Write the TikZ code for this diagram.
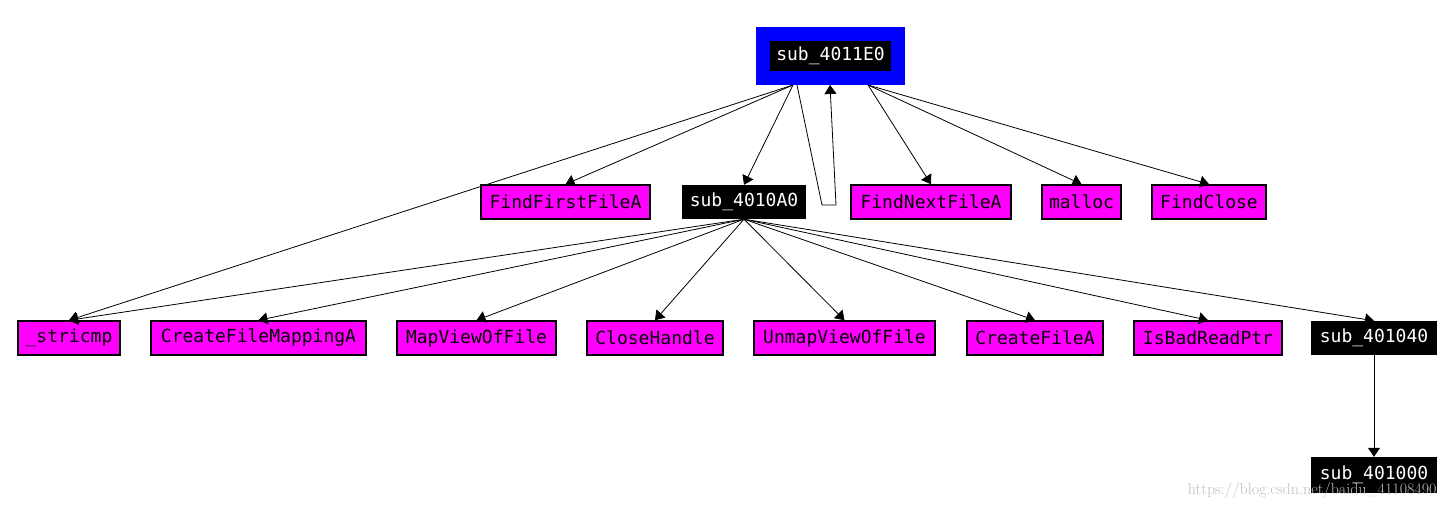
\documentclass[tikz,border=0pt]{standalone}
\usepackage{fontspec}
\setmonofont{DejaVu Sans Mono}
\usetikzlibrary{arrows.meta}
\definecolor{mag}{RGB}{255,0,255}
\definecolor{blu}{RGB}{0,0,255}
\begin{document}
\begin{tikzpicture}[x=1pt,y=-1pt,
  base/.style={inner sep=0pt,font=\ttfamily\fontsize{18}{18}\selectfont,minimum height=34pt},
  api/.style={base,fill=mag,draw=black,line width=1.5pt,text=black},
  sub/.style={base,fill=black,text=white},
  e/.style={-{Triangle[length=9pt,width=12pt]},line width=0.8pt}]
\useasboundingbox (0,0) rectangle (1451,507);
\fill[blu] (756,27) rectangle (905,85);
\node[sub,minimum width=121pt,minimum height=30pt] (top) at (830.5,56) {sub\_4011E0};
\coordinate (tl) at (793,85);
\coordinate (tr) at (868,85);
\coordinate (tu) at (830,85);
\node[sub,minimum width=124pt] (a0) at (744,202) {sub\_4010A0};
\node[api,minimum width=169pt] (ffa) at (565.5,202) {FindFirstFileA};
\node[api,minimum width=160pt] (fna) at (931,202) {FindNextFileA};
\node[api,minimum width=79pt] (mal) at (1081.5,202) {malloc};
\node[api,minimum width=114pt] (fc) at (1209,202) {FindClose};
\node[api,minimum width=102pt] (st) at (69,338) {\_stricmp};
\node[api,minimum width=215pt] (cfm) at (258.5,338) {CreateFileMappingA};
\node[api,minimum width=159pt] (mv) at (476.5,338) {MapViewOfFile};
\node[api,minimum width=136pt] (ch) at (655,338) {CloseHandle};
\node[api,minimum width=181pt] (um) at (844.5,338) {UnmapViewOfFile};
\node[api,minimum width=136pt] (cf) at (1035,338) {CreateFileA};
\node[api,minimum width=148pt] (ib) at (1208,338) {IsBadReadPtr};
\node[sub,minimum width=126pt] (s40) at (1374,338) {sub\_401040};
\node[sub,minimum width=126pt,minimum height=36pt] (s00) at (1374,475) {sub\_401000};
\draw[e] (tl) -- (st.north);
\draw[e] (tl) -- (ffa.north);
\draw[e] (tl) -- (a0.north);
\draw[e] (797,85) -- (822,205) -- (836,205) -- (tu);
\draw[e] (tr) -- (fna.north);
\draw[e] (tr) -- (mal.north);
\draw[e] (tr) -- (fc.north);
\foreach \t in {st,cfm,mv,ch,um,cf,ib,s40} \draw[e] (a0.south) -- (\t.north);
\draw[e] (s40.south) -- (s00.north);
\node[font=\fontsize{16}{16}\selectfont,text=black!25,anchor=east] (wm) at (1440,490) {https://blog.csdn.net/baidu\_41108490};
\end{tikzpicture}
\end{document}
